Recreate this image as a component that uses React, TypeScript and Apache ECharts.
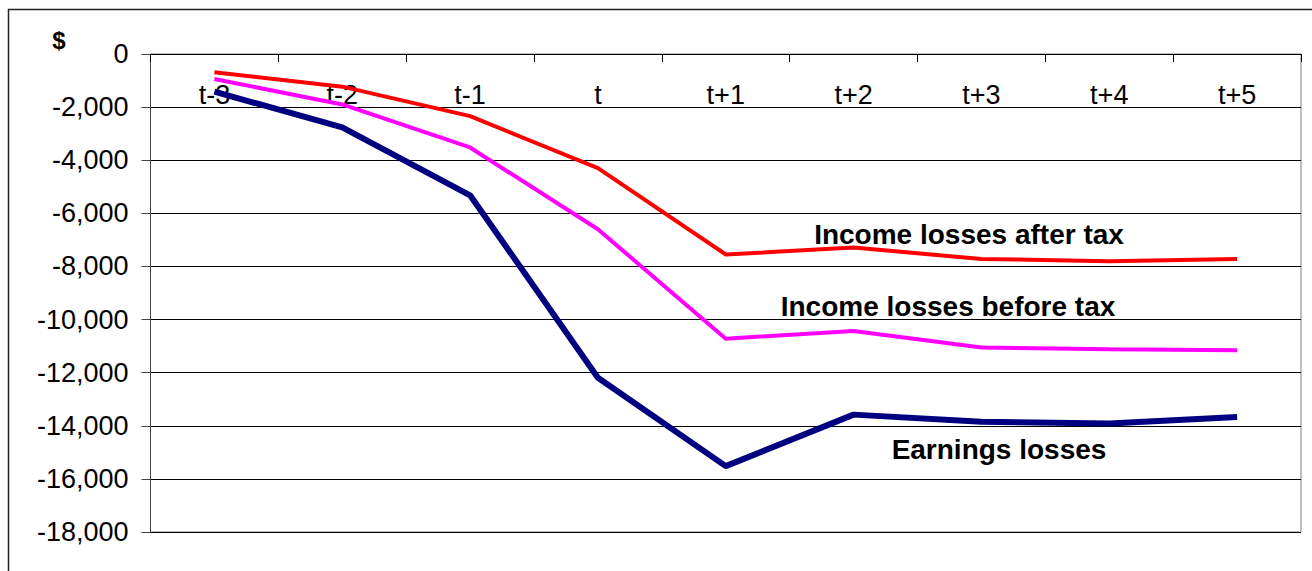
import React, { useEffect, useRef } from "react";
import * as echarts from "echarts";

const categories = ["t-3", "t-2", "t-1", "t", "t+1", "t+2", "t+3", "t+4", "t+5"];
const afterTax = [-690, -1230, -2340, -4300, -7550, -7290, -7720, -7800, -7720];
const beforeTax = [-940, -1900, -3520, -6600, -10720, -10430, -11050, -11120, -11160];
const earnings = [-1420, -2760, -5320, -12190, -15520, -13580, -13850, -13910, -13670];
const yTicks = { min: -18000, max: 0, interval: 2000 };
const annotations = [
  { text: "Income losses after tax", x: 969, y: 234 },
  { text: "Income losses before tax", x: 948, y: 306 },
  { text: "Earnings losses", x: 999, y: 449 },
];

const FONT = "'Liberation Sans', Arial, sans-serif";

export default function App() {
  const ref = useRef<HTMLDivElement>(null);
  useEffect(() => {
    if (!ref.current) return;
    const chart = echarts.init(ref.current, null, { renderer: "svg" });
    chart.setOption({
      animation: false,
      backgroundColor: "#ffffff",
      textStyle: { fontFamily: FONT },
      grid: {
        left: 150.5,
        top: 54,
        width: 1150.5,
        height: 478,
        show: true,
        borderColor: "#808080",
        borderWidth: 1,
        containLabel: false,
        outerBoundsMode: "none",
      },
      xAxis: {
        type: "category",
        data: categories,
        position: "top",
        boundaryGap: true,
        axisLine: { onZero: false, lineStyle: { color: "#000", width: 1 } },
        axisTick: { show: true, inside: true, length: 8, alignWithLabel: false, lineStyle: { color: "#000" } },
        axisLabel: { color: "#000", fontSize: 27, fontFamily: FONT, margin: 27, interval: 0, inside: true },
        splitLine: { show: false },
      },
      yAxis: {
        type: "value",
        min: yTicks.min,
        max: yTicks.max,
        interval: yTicks.interval,
        axisLine: { show: true, lineStyle: { color: "#404040", width: 1 } },
        axisTick: { show: true, length: 9, lineStyle: { color: "#404040" } },
        axisLabel: {
          color: "#000",
          fontSize: 27,
          fontFamily: FONT,
          margin: 22,
          formatter: (v: number) => {
            const s = Math.abs(v).toLocaleString("en-US");
            return v < 0 ? "-" + s : s;
          },
        },
        splitLine: { show: true, lineStyle: { color: "#000", width: 1 } },
      },
      series: [
        {
          name: "Earnings losses",
          type: "line",
          data: earnings,
          showSymbol: false,
          symbol: "none",
          lineStyle: { color: "#000080", width: 6 },
          z: 3,
        },
        {
          name: "Income losses before tax",
          type: "line",
          data: beforeTax,
          showSymbol: false,
          symbol: "none",
          lineStyle: { color: "#FF00FF", width: 4 },
          z: 4,
        },
        {
          name: "Income losses after tax",
          type: "line",
          data: afterTax,
          showSymbol: false,
          symbol: "none",
          lineStyle: { color: "#FF0000", width: 4 },
          z: 5,
        },
      ],
      graphic: [
        {
          type: "rect",
          shape: { x: 8.5, y: 9.5, width: 1400, height: 700 },
          style: { fill: "none", stroke: "#222", lineWidth: 1.5 },
          silent: true,
          z: 100,
        },
        {
          type: "text",
          x: 59,
          y: 40,
          style: {
            text: "$",
            font: `bold 24px ${FONT}`,
            fill: "#000",
            align: "center",
            verticalAlign: "middle",
          },
        },
        ...annotations.map((a) => ({
          type: "text",
          x: a.x,
          y: a.y,
          style: {
            text: a.text,
            font: `bold 28px ${FONT}`,
            fill: "#000",
            align: "center",
            verticalAlign: "middle",
          },
          z: 10,
        })),
      ],
    });
    return () => chart.dispose();
  }, []);
  return (
    <div
      ref={ref}
      style={{ position: "fixed", left: 0, top: 0, width: 1312, height: 571 }}
    />
  );
}
